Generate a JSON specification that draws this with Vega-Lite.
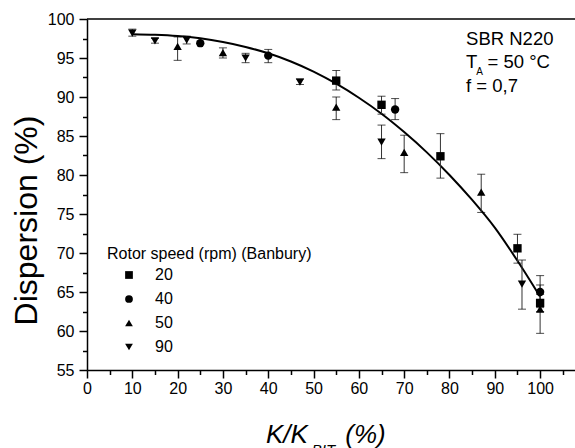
{
  "$schema": "https://vega.github.io/schema/vega-lite/v6.json",
  "width": 488,
  "height": 351,
  "autosize": "none",
  "padding": {"left": 87, "top": 19, "right": 0, "bottom": 78},
  "background": "white",
  "config": {
    "view": {"stroke": null},
    "font": "Liberation Sans",
    "axis": {
      "grid": false,
      "domainColor": "black",
      "domainWidth": 1.5,
      "tickColor": "black",
      "tickWidth": 1.5,
      "labelColor": "black",
      "labelFont": "Liberation Sans",
      "labelFontSize": 16,
      "titleFont": "Liberation Sans",
      "titleFontWeight": "normal",
      "titleColor": "black"
    },
    "legend": {
      "labelFont": "Liberation Sans",
      "titleFont": "Liberation Sans"
    }
  },
  "datasets": {
    "pts": [
      {"k": 55, "d": 92.1, "lo": 90.9, "hi": 93.4, "speed": "20"},
      {"k": 65, "d": 89.0, "lo": 87.8, "hi": 90.1, "speed": "20"},
      {"k": 78, "d": 82.4, "lo": 79.6, "hi": 85.3, "speed": "20"},
      {"k": 95, "d": 70.6, "lo": 68.7, "hi": 72.4, "speed": "20"},
      {"k": 100, "d": 63.6, "lo": 62.5, "hi": 64.7, "speed": "20"},
      {"k": 25, "d": 96.9, "lo": null, "hi": null, "speed": "40"},
      {"k": 40, "d": 95.3, "lo": 94.4, "hi": 96.1, "speed": "40"},
      {"k": 68, "d": 88.4, "lo": 87.1, "hi": 89.8, "speed": "40"},
      {"k": 100, "d": 65.0, "lo": 63.0, "hi": 67.1, "speed": "40"},
      {"k": 20, "d": 96.5, "lo": 94.7, "hi": 97.7, "speed": "50"},
      {"k": 30, "d": 95.7, "lo": 95.0, "hi": 96.3, "speed": "50"},
      {"k": 55, "d": 88.7, "lo": 87.1, "hi": 90.0, "speed": "50"},
      {"k": 70, "d": 82.9, "lo": 80.3, "hi": 85.1, "speed": "50"},
      {"k": 87, "d": 77.8, "lo": 75.2, "hi": 80.1, "speed": "50"},
      {"k": 100, "d": 62.8, "lo": 59.7, "hi": 65.9, "speed": "50"},
      {"k": 10, "d": 98.2, "lo": 97.8, "hi": 98.7, "speed": "90"},
      {"k": 15, "d": 97.2, "lo": 96.9, "hi": 97.5, "speed": "90"},
      {"k": 22, "d": 97.3, "lo": 96.8, "hi": 97.8, "speed": "90"},
      {"k": 35, "d": 95.0, "lo": 94.4, "hi": 95.6, "speed": "90"},
      {"k": 47, "d": 91.9, "lo": 91.6, "hi": 92.3, "speed": "90"},
      {"k": 65, "d": 84.2, "lo": 82.1, "hi": 86.4, "speed": "90"},
      {"k": 96, "d": 66.0, "lo": 62.8, "hi": 69.1, "speed": "90"}
    ],
    "fit": [
      {"k": 10, "d": 98.05},
      {"k": 15, "d": 97.98},
      {"k": 20, "d": 97.82},
      {"k": 25, "d": 97.52},
      {"k": 30, "d": 97.05},
      {"k": 35, "d": 96.42},
      {"k": 40, "d": 95.6},
      {"k": 45, "d": 94.55},
      {"k": 50, "d": 93.25},
      {"k": 55, "d": 91.7},
      {"k": 60, "d": 89.9},
      {"k": 65, "d": 87.85},
      {"k": 70, "d": 85.5},
      {"k": 75, "d": 82.9},
      {"k": 80, "d": 80.0},
      {"k": 85, "d": 76.8},
      {"k": 90, "d": 73.25},
      {"k": 95, "d": 69.0},
      {"k": 100, "d": 64.4}
    ],
    "frame": [
      {"k": 0, "d": 100},
      {"k": 107.7, "d": 100}
    ]
  },
  "encoding": {
    "x": {
      "field": "k",
      "type": "quantitative",
      "scale": {"domain": [0, 107.7], "nice": false, "zero": false},
      "axis": {
        "title": null,
        "values": [0, 5, 10, 15, 20, 25, 30, 35, 40, 45, 50, 55, 60, 65, 70, 75, 80, 85, 90, 95, 100, 105],
        "labelExpr": "datum.value % 10 === 0 ? datum.label : ''",
        "tickSize": {"condition": {"test": "datum.value % 10 === 0", "value": 8}, "value": 4.5},
        "labelPadding": 2,
        "labelFlush": false
      }
    },
    "y": {
      "field": "d",
      "type": "quantitative",
      "scale": {"domain": [55, 100], "nice": false, "zero": false},
      "axis": {
        "title": "Dispersion (%)",
        "titleFontSize": 32,
        "titlePadding": 4,
        "titleY": 201,
        "values": [55, 57.5, 60, 62.5, 65, 67.5, 70, 72.5, 75, 77.5, 80, 82.5, 85, 87.5, 90, 92.5, 95, 97.5, 100],
        "labelExpr": "datum.value % 5 === 0 ? datum.label : ''",
        "tickSize": {"condition": {"test": "datum.value % 5 === 0", "value": 8}, "value": 4.5},
        "labelPadding": 5,
        "labelFlush": false
      }
    }
  },
  "layer": [
    {
      "data": {"name": "fit"},
      "mark": {"type": "line", "color": "black", "strokeWidth": 2, "interpolate": "monotone"}
    },
    {
      "data": {"name": "frame"},
      "mark": {"type": "line", "color": "black", "strokeWidth": 1.5}
    },
    {
      "data": {"name": "pts"},
      "transform": [{"filter": "datum.lo != null"}],
      "mark": {"type": "rule", "color": "#333333", "strokeWidth": 1},
      "encoding": {"y": {"field": "lo", "type": "quantitative"}, "y2": {"field": "hi"}}
    },
    {
      "data": {"name": "pts"},
      "transform": [{"filter": "datum.lo != null"}],
      "mark": {"type": "tick", "orient": "horizontal", "color": "black", "size": 8, "thickness": 1},
      "encoding": {"y": {"field": "lo", "type": "quantitative"}}
    },
    {
      "data": {"name": "pts"},
      "transform": [{"filter": "datum.lo != null"}],
      "mark": {"type": "tick", "orient": "horizontal", "color": "black", "size": 8, "thickness": 1},
      "encoding": {"y": {"field": "hi", "type": "quantitative"}}
    },
    {
      "data": {"name": "pts"},
      "mark": {"type": "point", "filled": true, "color": "black", "opacity": 1, "size": 70},
      "encoding": {
        "shape": {
          "field": "speed",
          "type": "nominal",
          "scale": {"domain": ["20", "40", "50", "90"], "range": ["square", "circle", "triangle-up", "triangle-down"]},
          "legend": {
            "title": "Rotor speed (rpm) (Banbury)",
            "orient": "none",
            "legendX": 20,
            "legendY": 227,
            "padding": 0,
            "titleFontSize": 16,
            "titleFontWeight": "normal",
            "titleColor": "black",
            "titlePadding": 5,
            "titleLimit": 400,
            "labelLimit": 200,
            "labelFontSize": 16,
            "labelColor": "black",
            "symbolSize": 60,
            "symbolFillColor": "black",
            "symbolStrokeColor": "black",
            "symbolOffset": 14,
            "labelOffset": 18,
            "rowPadding": 8
          }
        }
      }
    },
    {
      "data": {"values": [{"k": 83.66, "d": 96.67}]},
      "mark": {"type": "text", "text": "SBR N220", "fontSize": 18.5, "align": "left", "baseline": "alphabetic", "color": "black"}
    },
    {
      "data": {"values": [{"k": 83.66, "d": 93.72}]},
      "mark": {"type": "text", "text": "T", "fontSize": 18.5, "align": "left", "baseline": "alphabetic", "color": "black"}
    },
    {
      "data": {"values": [{"k": 85.9, "d": 92.8}]},
      "mark": {"type": "text", "text": "A", "fontSize": 10, "align": "left", "baseline": "alphabetic", "color": "black"}
    },
    {
      "data": {"values": [{"k": 88.4, "d": 93.72}]},
      "mark": {"type": "text", "text": "= 50 °C", "fontSize": 18.5, "align": "left", "baseline": "alphabetic", "color": "black"}
    },
    {
      "data": {"values": [{"k": 83.66, "d": 90.64}]},
      "mark": {"type": "text", "text": "f = 0,7", "fontSize": 18.5, "align": "left", "baseline": "alphabetic", "color": "black"}
    },
    {
      "data": {"values": [{"k": 39.5, "d": 45.64}]},
      "mark": {"type": "text", "text": "K/K", "fontSize": 26, "fontStyle": "italic", "align": "left", "baseline": "alphabetic", "color": "black"}
    },
    {
      "data": {"values": [{"k": 49.6, "d": 44.1}]},
      "mark": {"type": "text", "text": "BIT", "fontSize": 15, "fontStyle": "italic", "align": "left", "baseline": "alphabetic", "color": "black"}
    },
    {
      "data": {"values": [{"k": 57.0, "d": 45.64}]},
      "mark": {"type": "text", "text": "(%)", "fontSize": 26, "fontStyle": "italic", "align": "left", "baseline": "alphabetic", "color": "black"}
    }
  ]
}
